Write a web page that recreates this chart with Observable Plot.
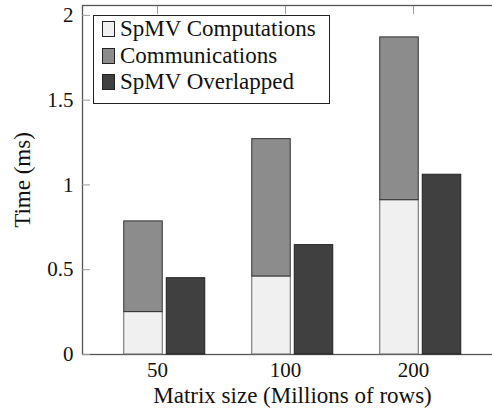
<!DOCTYPE html>
<html><head><meta charset="utf-8">
<script src="https://cdn.jsdelivr.net/npm/d3@7"></script>
<script src="https://cdn.jsdelivr.net/npm/@observablehq/plot@0.6"></script>
<style>
html,body{margin:0;padding:0;overflow:hidden;background:#fff;width:492px;height:410px}
#wrap{position:relative;width:492px;height:410px;overflow:hidden}
#wrap svg{display:block;max-width:none !important;width:502px !important;height:410px !important}
.legend{position:absolute;left:93px;top:15px;width:235px;height:87px;border:1px solid #222;background:#fff;font-family:"Liberation Serif","DejaVu Serif","Times New Roman",serif;font-size:23px;color:#111}
.row{position:absolute;left:0;height:26px;display:flex;align-items:center;white-space:nowrap}
.sw{width:11px;height:14px;border:1px solid #222;margin-left:8px;margin-right:5px}
</style></head><body><div id="wrap"></div>
<script>
const sizes = ["50", "100", "200"];
const computations = [0.25, 0.46, 0.91];
const communications = [0.535, 0.81, 0.96];
const overlapped = [0.45, 0.645, 1.06];
const seriesNames = ["SpMV Computations", "Communications", "SpMV Overlapped"];
const colors = ["#f0f0f0", "#8c8c8c", "#404040"];
const yTicks = [0, 0.5, 1, 1.5, 2];
const xLabel = "Matrix size (Millions of rows)";
const yLabel = "Time (ms)";

const table = sizes.map((s, i) => ({size: s, comp: computations[i], comm: communications[i], over: overlapped[i]}));

const FONT = '"Liberation Serif", "DejaVu Serif", "Times New Roman", serif';
const inset = 44.75;
const plot = Plot.plot({
  width: 502, height: 410,
  marginLeft: 82, marginRight: 0, marginTop: 5, marginBottom: 56,
  style: {fontFamily: FONT, fontSize: "21px", background: "transparent", color: "#111"},
  x: {domain: sizes, paddingInner: 0, paddingOuter: 0.134, axis: null},
  y: {domain: [0, 2.058], axis: null},
  marks: [
    Plot.frame({stroke: "#555", strokeWidth: 1.3}),
    Plot.axisY(yTicks, {tickSize: -8, stroke: "#999", tickFormat: () => "", label: null}),
    Plot.axisY(yTicks, {tickSize: 0, tickPadding: 9, tickFormat: d => String(d), label: null, fontSize: 21}),
    Plot.axisX({anchor: "top", tickSize: -8, stroke: "#999", tickFormat: () => "", dx: -7, label: null}),
    Plot.axisX({anchor: "bottom", tickSize: 0, tickPadding: 8, dx: -7, label: null, fontSize: 21}),
    Plot.barY(table, {x: "size", y: "comp", fill: colors[0], stroke: "#666", insetLeft: inset, insetRight: inset, dx: -21}),
    Plot.barY(table, {x: "size", y1: "comp", y2: d => d.comp + d.comm, fill: colors[1], stroke: "#333", insetLeft: inset, insetRight: inset, dx: -21}),
    Plot.barY(table, {x: "size", y: "over", fill: colors[2], stroke: "#222", insetLeft: inset, insetRight: inset, dx: 21.5}),
    Plot.ruleY(table, {x: "size", y: 0, stroke: "#111", strokeWidth: 2, insetLeft: 32.75, insetRight: 32.75}),
    Plot.text([yLabel], {frameAnchor: "left", rotate: -90, dx: -60, textAnchor: "middle", lineAnchor: "middle", fontSize: 23, fill: "#111"}),
    Plot.text([xLabel], {frameAnchor: "bottom", dy: 41, textAnchor: "middle", lineAnchor: "middle", fontSize: 23, fill: "#111"})
  ]
});
const wrap = document.getElementById("wrap");
wrap.appendChild(plot);

const legend = document.createElement("div");
legend.className = "legend";
const tops = [0, 27, 53];
seriesNames.forEach((name, i) => {
  const row = document.createElement("div");
  row.className = "row";
  row.style.top = tops[i] + "px";
  const sw = document.createElement("div");
  sw.className = "sw";
  sw.style.background = colors[i];
  const t = document.createElement("span");
  t.textContent = name;
  row.appendChild(sw);
  row.appendChild(t);
  legend.appendChild(row);
});
wrap.appendChild(legend);
</script>
</body></html>
